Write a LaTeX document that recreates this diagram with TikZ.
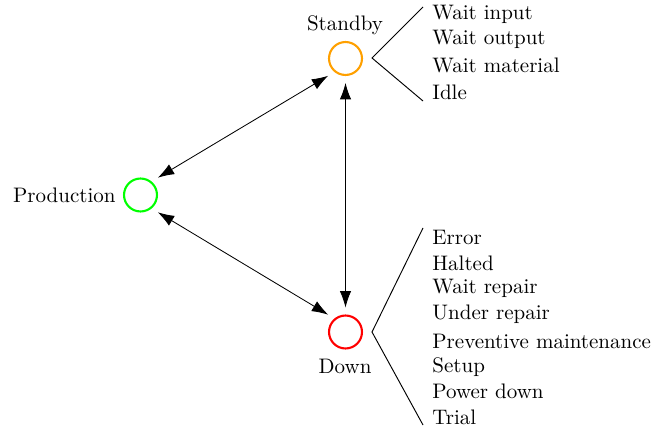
\documentclass[tikz,border=0pt]{standalone}
\usetikzlibrary{arrows.meta}
\definecolor{stOrange}{RGB}{255,160,0}
\definecolor{stGreen}{RGB}{0,255,0}
\definecolor{stRed}{RGB}{255,0,0}
\begin{document}
\begin{tikzpicture}[x=0.47619pt,y=-0.47619pt,
  state/.style={circle,draw,line width=1pt,minimum size=15.7pt,inner sep=0pt,outer sep=3.8pt},
  lbl/.style={inner sep=0pt},
  item/.style={inner sep=0pt,anchor=base west},
  conn/.style={{Latex[length=7.8pt,width=5.4pt]}-{Latex[length=7.8pt,width=5.4pt]}},
  brace/.style={line width=0.45pt}]
\useasboundingbox (0,0) rectangle (653,431);
\node[state,draw=stOrange] (sb) at (345.5,58.5) {};
\node[state,draw=stGreen] (pr) at (140.5,195) {};
\node[state,draw=stRed] (dn) at (345.5,332) {};
\node[lbl,anchor=base] (sbl) at (345,31) {Standby};
\node[lbl,anchor=base east] (prl) at (116,203) {Production};
\node[lbl,anchor=base] (dnl) at (345,373) {Down};
\draw[conn] (pr.north east) -- (sb.south west);
\draw[conn] (pr.south east) -- (dn.north west);
\draw[conn] (sb.south) -- (dn.north);
\coordinate (sbv) at (372,58);
\coordinate (sbt) at (423,7);
\coordinate (sbb) at (423,101);
\draw[brace] (sbt) -- (sbv) -- (sbb);
\coordinate (dnv) at (372,332);
\coordinate (dnt) at (423,228);
\coordinate (dnb) at (423,425);
\draw[brace] (dnt) -- (dnv) -- (dnb);
\node[item] (s1) at (432,20) {Wait input};
\node[item] (s2) at (432,45) {Wait output};
\node[item] (s3) at (432,73) {Wait material};
\node[item] (s4) at (432,100) {Idle};
\node[item] (d1) at (432,245) {Error};
\node[item] (d2) at (432,271) {Halted};
\node[item] (d3) at (432,294) {Wait repair};
\node[item] (d4) at (432,320) {Under repair};
\node[item] (d5) at (432,348) {Preventive maintenance};
\node[item] (d6) at (432,372) {Setup};
\node[item] (d7) at (432,398) {Power down};
\node[item] (d8) at (432,424) {Trial};
\end{tikzpicture}
\end{document}
